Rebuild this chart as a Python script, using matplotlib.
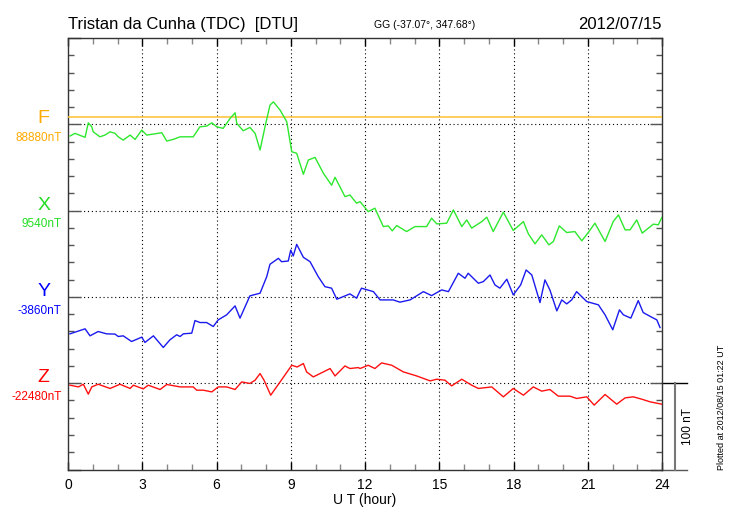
import numpy as np
import matplotlib
matplotlib.use('Agg')
import matplotlib.pyplot as plt
from matplotlib.ticker import MultipleLocator

plt.rcParams['font.family'] = ['Liberation Sans', 'DejaVu Sans']

# station info
station = 'Tristan da Cunha (TDC)  [DTU]'
coords = 'GG (-37.07°, 347.68°)'
date = '2012/07/15'
plotted = 'Plotted at 2012/08/15 01:22 UT'

# baselines (nT) for each component
comps = ['F', 'X', 'Y', 'Z']
bases = [88880, 9540, -3860, -22480]
colors = {'F': '#ffaa00', 'X': '#22dd22', 'Y': '#0000ff', 'Z': '#ff0000'}
line_colors = {'F': '#ffc030', 'X': '#2ee82e', 'Y': '#1a1aee', 'Z': '#ff1010'}

# F (nearly flat), hours / deviation from baseline in nT
f_t = [0.0, 24.0]
f_dev = [8.0, 8.0]

# X component: hours, deviation from 9540 nT
x_t = [0.08, 0.28, 0.69, 0.82, 0.96, 1.02, 1.29, 1.49, 1.70, 1.90, 2.03, 2.23, 2.51, 2.71,
       2.98, 3.18, 3.45, 3.79, 3.99, 4.25, 4.53, 4.80, 5.06, 5.33, 5.60, 5.81, 6.01, 6.27,
       6.55, 6.75, 6.82, 7.08, 7.35, 7.56, 7.76, 7.96, 8.16, 8.30, 8.57, 8.84, 9.04, 9.24,
       9.51, 9.71, 9.98, 10.32, 10.65, 10.79, 11.19, 11.39, 11.66, 11.80, 12.13, 12.40,
       12.74, 12.94, 13.10, 13.28, 13.68, 14.02, 14.49, 14.69, 14.90, 15.30, 15.57, 15.91,
       16.11, 16.31, 16.72, 16.92, 17.18, 17.59, 17.99, 18.40, 18.60, 18.87, 19.14, 19.43,
       19.61, 19.85, 20.15, 20.48, 20.76, 21.02, 21.29, 21.70, 22.03, 22.24, 22.51, 22.71,
       22.98, 23.20, 23.65, 23.85, 23.99]
x_dev = [86.4, 89.5, 84.9, 101.7, 97.1, 91.3, 85.5, 87.5, 91.3, 89.5, 85.5, 81.7, 87.5, 82.5,
         93.3, 87.5, 88.7, 90.2, 80.6, 82.5, 85.5, 85.5, 85.5, 97.1, 97.9, 101.7, 97.1, 95.3,
         106.8, 113.3, 101.0, 92.5, 96.4, 89.5, 70.2, 97.1, 122.2, 126.0, 116.4, 102.9, 68.2, 66.4,
         42.1, 58.6, 61.7, 43.2, 29.4, 38.6, 16.2, 18.1, 8.6, 10.4, -1.2, 2.8,
         -18.5, -17.7, -23.5, -17.3, -24.3, -18.5, -18.5, -8.8, -15.4, -14.6, 0.8, -18.5,
         -10.8, -20.3, -12.7, -7.6, -24.3, -1.8, -23.1, -12.7, -26.9, -38.5, -28.1, -39.7,
         -35.8, -17.7, -25.4, -24.3, -35.0, -25.4, -14.6, -35.8, -12.7, -5.0, -22.3, -22.3,
         -10.8, -26.1, -15.7, -16.5, -8.1]

# Y component: hours, deviation from -3860 nT
y_t = [0.08, 0.69, 0.89, 1.22, 1.56, 1.90, 2.03, 2.23, 2.57, 2.98, 3.11, 3.45, 3.85, 4.12,
       4.39, 4.53, 4.66, 5.00, 5.13, 5.33, 5.60, 5.87, 6.07, 6.41, 6.75, 6.95, 7.35, 7.76,
       8.03, 8.16, 8.50, 8.63, 8.90, 9.00, 9.10, 9.24, 9.51, 9.78, 10.11, 10.38, 10.65, 10.86,
       11.12, 11.39, 11.66, 11.80, 11.86, 12.34, 12.61, 13.14, 13.41, 13.82, 14.36, 14.69,
       15.10, 15.37, 15.77, 16.04, 16.17, 16.58, 16.78, 17.05, 17.25, 17.45, 17.73, 17.99,
       18.29, 18.51, 18.74, 19.07, 19.27, 19.47, 19.75, 19.95, 20.15, 20.35, 20.55, 20.96,
       21.43, 21.70, 22.01, 22.28, 22.44, 22.74, 23.04, 23.24, 23.58, 23.79, 23.92]
y_dev = [-42.8, -37.0, -45.1, -40.1, -42.8, -43.1, -45.9, -45.1, -51.7, -46.6, -52.8, -45.1, -58.6, -49.7,
         -43.9, -45.9, -42.8, -42.0, -27.4, -29.7, -29.7, -34.3, -26.6, -20.8, -10.4, -24.6, 1.2, 4.3,
         23.5, 37.8, 44.7, 40.8, 41.6, 54.3, 47.4, 60.9, 45.9, 40.8, 23.5, 11.9, 10.1, -2.7,
         0.3, 3.5, -1.5, 6.9, 10.1, 6.1, -3.5, -3.5, -6.1, -3.5, 6.1, 1.5,
         8.1, 6.1, 27.4, 21.6, 27.4, 15.8, 17.7, 25.4, 13.9, 10.1, 20.5, 2.3,
         13.9, 31.2, 25.4, -6.6, 19.7, 8.1, -16.2, -3.5, -8.1, -3.5, 6.1, -5.4,
         -9.2, -20.8, -38.1, -15.0, -20.8, -24.6, -4.3, -18.1, -23.5, -26.6, -35.5]

# Z component: hours, deviation from -22480 nT
z_t = [0.08, 0.42, 0.62, 0.82, 0.96, 1.22, 1.70, 2.10, 2.51, 2.64, 3.04, 3.24, 3.72, 3.99,
       4.53, 5.06, 5.20, 5.47, 5.81, 6.07, 6.41, 6.75, 7.02, 7.35, 7.56, 7.76, 7.92, 8.19,
       8.57, 8.90, 9.04, 9.26, 9.51, 9.64, 9.91, 10.32, 10.59, 10.79, 11.19, 11.39, 11.73, 11.80,
       12.13, 12.40, 12.67, 13.08, 13.55, 14.09, 14.63, 14.90, 15.23, 15.50, 15.91, 16.31,
       16.58, 17.12, 17.59, 17.99, 18.40, 18.80, 19.14, 19.47, 19.81, 20.28, 20.55, 20.96,
       21.26, 21.70, 22.17, 22.51, 22.84, 23.18, 23.52, 23.99]
z_dev = [-2.3, -4.3, -1.2, -12.7, -4.3, -1.2, -6.1, -1.2, -6.1, -2.3, -6.6, -2.3, -7.3, -1.5,
         -4.3, -4.3, -8.1, -8.1, -10.1, -4.3, -4.3, -7.3, 1.5, -0.3, 3.5, 11.2, 3.5, -13.9,
         1.5, 15.0, 20.8, 18.8, 22.8, 13.1, 7.3, 13.1, 17.0, 8.4, 20.0, 17.0, 18.1, 17.0,
         20.8, 17.0, 23.5, 20.8, 13.1, 8.4, 2.7, 4.6, 3.5, -3.1, 4.6, -2.3,
         -6.1, -4.3, -15.8, -6.1, -13.9, -4.3, -9.2, -7.3, -15.0, -15.0, -17.7, -15.8,
         -25.4, -13.1, -24.3, -17.0, -15.8, -18.5, -21.6, -24.3]

# vertical stacking offsets: 100 nT between baselines
offsets = {'F': 300, 'X': 200, 'Y': 100, 'Z': 0}
series = {'F': (f_t, f_dev), 'X': (x_t, x_dev), 'Y': (y_t, y_dev), 'Z': (z_t, z_dev)}

fig = plt.figure(figsize=(7.3, 5.2), dpi=100)
ax = fig.add_axes([68 / 730, 1 - 469.5 / 520, 594 / 730, 431.5 / 520])

ax.set_xlim(0, 24)
ax.set_ylim(-100, 400)

# grid: vertical dotted at every 3 h, horizontal dotted at baselines
dot = (0, (1, 2.5))
for h in range(3, 24, 3):
    ax.axvline(h, color='black', lw=0.8, ls=dot, zorder=1)
for c in comps:
    ax.axhline(offsets[c], color='black', lw=0.8, ls=dot, zorder=1)

for c in comps:
    t, d = series[c]
    lw = 1.1 if c == 'F' else 1.0
    ax.plot(t, np.array(d) + offsets[c], color=line_colors[c], lw=lw, zorder=3)

# ticks
ax.xaxis.set_major_locator(MultipleLocator(3))
ax.xaxis.set_minor_locator(MultipleLocator(1))
ax.yaxis.set_major_locator(MultipleLocator(100))
ax.yaxis.set_minor_locator(MultipleLocator(20))
ax.tick_params(axis='x', which='major', direction='in', top=True, bottom=True,
               length=6, width=1, color='black', labelsize=10, pad=6)
ax.tick_params(axis='x', which='minor', direction='in', top=True, bottom=True,
               length=4, width=1, color='#888888')
ax.tick_params(axis='y', which='major', direction='in', left=True, right=True,
               length=9, width=1, color='#555555', labelleft=False)
ax.tick_params(axis='y', which='minor', direction='in', left=True, right=True,
               length=4.3, width=1, color='#555555')
for s in ax.spines.values():
    s.set_color('#333333')
    s.set_linewidth(1)

ax.set_xlabel('U T (hour)', fontsize=10, labelpad=1)

# component labels on the left
for c, b in zip(comps, bases):
    ax.annotate(c, xy=(0, offsets[c]), xycoords=('axes fraction', 'data'),
                xytext=(-17.5, 4), textcoords='offset points',
                ha='center', va='center', fontsize=14, color=colors[c])
    ax.annotate(f'{b}nT', xy=(0, offsets[c]), xycoords=('axes fraction', 'data'),
                xytext=(-4.5, -10), textcoords='offset points',
                ha='right', va='center', fontsize=8.5, color=colors[c])

# 100 nT scale bar
ax.plot([24, 25.0], [0, 0], color='black', lw=1, clip_on=False)
ax.plot([24, 25.0], [-100, -100], color='#555555', lw=1, clip_on=False)
ax.plot([24.53, 24.53], [-100, 0], color='#777777', lw=1.5, clip_on=False)
ax.text(25.05, -50, '100 nT', rotation=90, ha='center', va='center', fontsize=8.5)

# titles
fig.text(68 / 730, 1 - 29 / 520, station, fontsize=12, ha='left', va='baseline')
fig.text(662 / 730, 1 - 29 / 520, date, fontsize=12, ha='right', va='baseline')
fig.text(425 / 730, 1 - 28 / 520, coords, fontsize=7.5, ha='center', va='baseline')
fig.text(722 / 730, 1 - 470 / 520, plotted, rotation=90, fontsize=6.5,
         ha='center', va='bottom')

fig.savefig('out.png', dpi=100)
